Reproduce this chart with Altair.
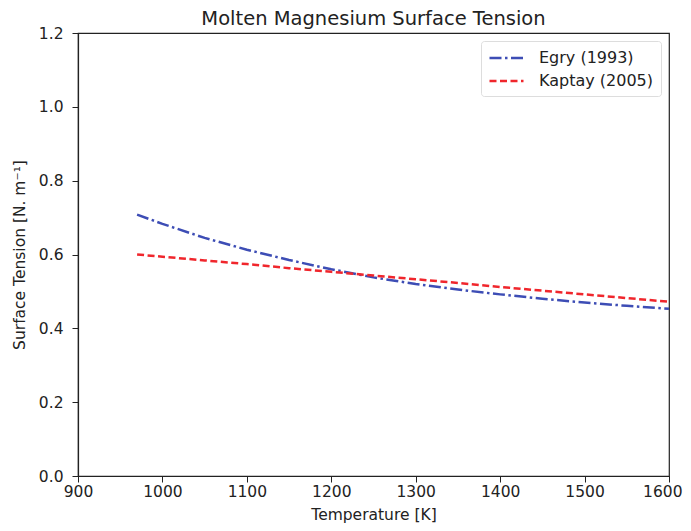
import altair as alt
import pandas as pd

temps = [970, 1000, 1050, 1100, 1150, 1200, 1250, 1300, 1350, 1400, 1450, 1500, 1550, 1600]
egry = [0.708, 0.683, 0.645, 0.613, 0.585, 0.560, 0.538, 0.520, 0.505, 0.492, 0.480, 0.470, 0.461, 0.453]
kaptay = [0.600, 0.594, 0.584, 0.574, 0.563, 0.553, 0.543, 0.533, 0.523, 0.512, 0.502, 0.492, 0.482, 0.472]
series = ["Egry (1993)", "Kaptay (2005)"]
x_ticks = [900, 1000, 1100, 1200, 1300, 1400, 1500, 1600]
y_ticks = [0.0, 0.2, 0.4, 0.6, 0.8, 1.0, 1.2]

rows = []
for t, v in zip(temps, egry):
    rows.append({"T": t, "sigma": v, "model": series[0]})
for t, v in zip(temps, kaptay):
    rows.append({"T": t, "sigma": v, "model": series[1]})
df = pd.DataFrame(rows)

font = "DejaVu Sans"
ink = "#222222"

chart = alt.Chart(df).mark_line(strokeWidth=2.5).encode(
    x=alt.X("T:Q", scale=alt.Scale(domain=[900, 1600], nice=False, zero=False),
            axis=alt.Axis(values=x_ticks, format="d", title="Temperature [K]",
                          grid=False, titlePadding=8, labelPadding=2, labelFlush=False,
                          labelAlign=alt.condition("datum.value == 1600", alt.value("right"), alt.value("center")),
                          labelOffset=alt.condition("datum.value == 1600", alt.value(13), alt.value(0)))),
    y=alt.Y("sigma:Q", scale=alt.Scale(domain=[0, 1.2], nice=False),
            axis=alt.Axis(values=y_ticks, format=".1f", title="Surface Tension [N. m⁻¹]",
                          grid=False, titlePadding=11, labelPadding=9, labelFlush=False)),
    color=alt.Color("model:N", scale=alt.Scale(domain=series, range=["#3d4db5", "#f0262c"]),
                    legend=alt.Legend(title=None, orient="top-right")),
    strokeDash=alt.StrokeDash("model:N", scale=alt.Scale(domain=series, range=[[12, 3.5, 2.5, 3.5], [7, 3.5]]),
                              legend=alt.Legend(title=None, orient="top-right")),
).properties(
    width=591,
    height=443,
    title=alt.TitleParams("Molten Magnesium Surface Tension", fontSize=19.5, font=font,
                          fontWeight="normal", color=ink, offset=-3),
    autosize=alt.AutoSizeParams(type="none"),
    padding={"left": 70, "top": 25, "right": 14, "bottom": 47},
).configure_view(
    stroke=ink, strokeWidth=1.2
).configure_axis(
    domainColor=ink, tickColor=ink, labelColor=ink, titleColor=ink,
    labelFont=font, titleFont=font, labelFontSize=15.5, titleFontSize=15.5,
    titleFontWeight="normal", tickSize=6, domainWidth=1.2
).configure_legend(
    offset=8, symbolType="M-1,0H3", symbolSize=289, symbolStrokeWidth=2.5,
    labelFontSize=16, labelFont=font, labelColor=ink,
    strokeColor="#dddddd", fillColor="white", cornerRadius=3,
    padding=7, rowPadding=5, labelOffset=31
)

chart.save("out.html", embed_options={"renderer": "svg", "actions": False})
